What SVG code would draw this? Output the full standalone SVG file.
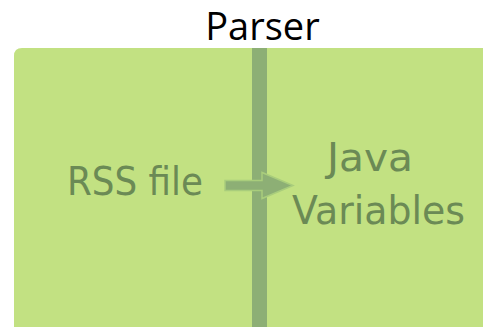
<svg xmlns="http://www.w3.org/2000/svg" width="483" height="327" viewBox="0 0 483 327">
  <style>
    .title { font-family: "Open Sans", "DejaVu Sans", sans-serif; font-size: 38px; fill: #000000; }
    .label { font-family: "DejaVu Sans", "Liberation Sans", sans-serif; font-size: 39px; fill: #6b8a55; }
    .panel { fill: #c2e182; }
    .divider { fill: #8daf75; }
    .flow { fill: #8daf75; stroke: #a9cd7c; stroke-width: 1.5; stroke-linejoin: miter; }
  </style>
  <rect width="483" height="327" fill="#ffffff"/>

  <!-- parser panel: rounded top-left corner, runs off the right and bottom edges -->
  <g id="parser">
    <path class="panel" d="M14 56 Q14 48 22 48 H483 V327 H14 Z"/>
    <rect class="divider" x="252" y="48" width="15" height="279"/>
    <text class="title" x="262.5" y="39.5" text-anchor="middle">Parser</text>
  </g>

  <g id="rss-file">
    <text class="label" x="67" y="195" textLength="136" lengthAdjust="spacingAndGlyphs">RSS file</text>
  </g>

  <g id="java-variables">
    <text class="label" x="327" y="170.5" textLength="86" lengthAdjust="spacingAndGlyphs">Java</text>
    <text class="label" x="292" y="223.5" textLength="173" lengthAdjust="spacingAndGlyphs">Variables</text>
  </g>

  <g id="connectors">
    <polygon class="flow" points="225,180.5 262,180.5 262,172.5 293,185.5 262,198.5 262,190.5 225,190.5"/>
  </g>
</svg>
